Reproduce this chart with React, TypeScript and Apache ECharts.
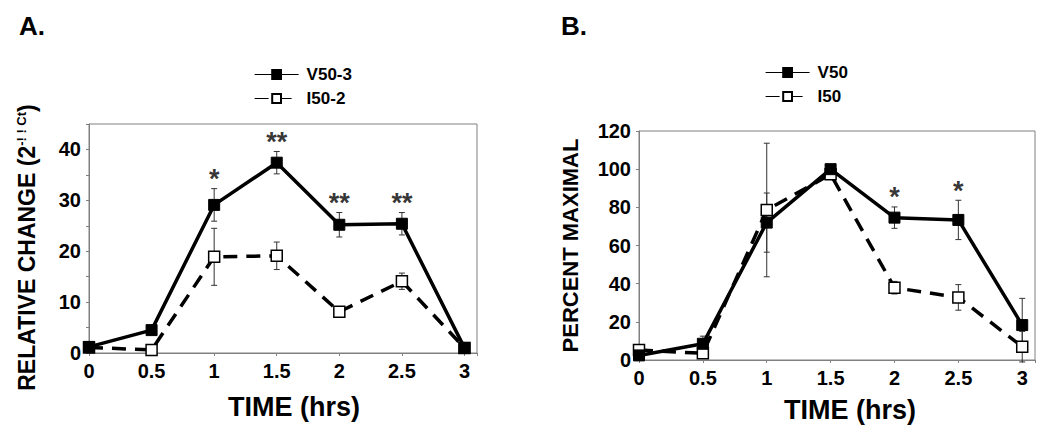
import React, { useEffect, useRef } from "react";
import * as echarts from "echarts";

const timesA = [0, 0.5, 1, 1.5, 2, 2.5, 3];
const v503 = [1.2, 4.5, 29.1, 37.4, 25.2, 25.4, 1.0];
const v503Err = [0, 0, 3.2, 2.2, 2.4, 2.2, 0];
const i502 = [1.1, 0.6, 18.9, 19.1, 8.1, 14.1, 1.0];
const i502Err = [0, 0, 5.6, 2.7, 0, 1.6, 0];
const starsA = ["", "", "*", "**", "**", "**", ""];

const timesB = [0, 0.5, 1, 1.5, 2, 2.5, 3];
const v50 = [2.4, 8.5, 72, 100, 74.6, 73.4, 18.3];
const v50Err = [0, 4, 15.5, 0, 5.6, 10.3, 14];
const i50 = [5.2, 3.5, 78.6, 97.3, 37.9, 32.8, 7];
const i50Err = [0, 0, 35, 0, 3.3, 6.7, 8];
const starsB = ["", "", "", "", "*", "*", ""];

const FONT = "Liberation Sans";

const errRender = (params: any, api: any) => {
  const x = api.value(0);
  const y = api.value(1);
  const e = api.value(2);
  const top = api.coord([x, y + e]);
  const bot = api.coord([x, y - e]);
  const c = 3;
  const st = { stroke: "#333", lineWidth: 1 };
  return {
    type: "group",
    children: [
      { type: "line", shape: { x1: top[0], y1: top[1], x2: bot[0], y2: bot[1] }, style: st },
      { type: "line", shape: { x1: top[0] - c, y1: top[1], x2: top[0] + c, y2: top[1] }, style: st },
      { type: "line", shape: { x1: bot[0] - c, y1: bot[1], x2: bot[0] + c, y2: bot[1] }, style: st },
    ],
  };
};

const errData = (t: number[], v: number[], e: number[]) =>
  t.map((x, i) => [x, v[i], e[i]]).filter((d) => d[2] > 0);

const starData = (t: number[], v: number[], e: number[], s: string[]) =>
  t
    .map((x, i) => ({ name: s[i], value: [x, v[i] + e[i]] }))
    .filter((d) => d.name !== "");

const filled = { color: "#000", borderColor: "#000", borderWidth: 1 };
const open = { color: "#fff", borderColor: "#000", borderWidth: 1.5 };

export default function App() {
  const ref = useRef<HTMLDivElement>(null);
  useEffect(() => {
    const chart = echarts.init(ref.current!, null, { renderer: "svg" });
    const tickFmt = (v: number) => (Math.abs(v * 2 - Math.round(v * 2)) < 1e-6 ? String(v) : "");
    const axisLabel = { fontFamily: FONT, fontWeight: "bold", fontSize: 20, color: "#000", margin: 8 };
    const axisLine = { show: true, lineStyle: { color: "#808080", width: 1 } };
    const axisTick = { show: true, length: 3, lineStyle: { color: "#808080" } };
    const nameStyle = { fontFamily: FONT, fontWeight: "bold", fontSize: 27, color: "#000" };
    const lineSeries = (name: string, t: number[], v: number[], idx: number, dashed: boolean) => ({
      type: "line",
      name,
      xAxisIndex: idx,
      yAxisIndex: idx,
      data: t.map((x, i) => [x, v[i]]),
      symbol: "rect",
      symbolSize: 11,
      showAllSymbol: true,
      lineStyle: { color: "#000", width: 3.5, type: dashed ? [14, 9] : "solid" },
      itemStyle: dashed ? open : filled,
      z: dashed ? 3 : 4,
    });
    const errSeries = (t: number[], v: number[], e: number[], idx: number) => ({
      type: "custom",
      xAxisIndex: idx,
      yAxisIndex: idx,
      renderItem: errRender,
      data: errData(t, v, e),
      z: 2,
      silent: true,
    });
    const starSeries = (t: number[], v: number[], e: number[], s: string[], idx: number) => ({
      type: "scatter",
      xAxisIndex: idx,
      yAxisIndex: idx,
      symbolSize: 0,
      data: starData(t, v, e, s),
      label: {
        show: true,
        position: "top",
        distance: -4,
        formatter: "{b}",
        fontFamily: FONT,
        fontWeight: "bold",
        fontSize: 27,
        color: "#000",
      },
      silent: true,
    });
    const legendBase = {
      orient: "vertical",
      itemWidth: 44,
      itemHeight: 11,
      itemGap: 7,
      lineStyle: { width: 1.2 },
      textStyle: { fontFamily: FONT, fontWeight: "bold", fontSize: 17, color: "#000", padding: [0, 0, 0, 3] },
      selectedMode: false,
    };
    chart.setOption({
      animation: false,
      backgroundColor: "#fff",
      title: [
        { text: "A.", left: 14, top: 8, textStyle: { fontFamily: FONT, fontWeight: "bold", fontSize: 26, color: "#000" } },
        { text: "B.", left: 556, top: 8, textStyle: { fontFamily: FONT, fontWeight: "bold", fontSize: 26, color: "#000" } },
      ],
      legend: [
        { ...legendBase, data: ["V50-3", "I50-2"], left: 249, top: 61 },
        { ...legendBase, data: ["V50", "I50"], left: 760, top: 59 },
      ],
      grid: [
        { left: 89, top: 124, width: 388, height: 229, show: true, borderColor: "#808080", borderWidth: 1 },
        { left: 639, top: 131, width: 396, height: 229, show: true, borderColor: "#808080", borderWidth: 1 },
      ],
      xAxis: [
        {
          type: "value", gridIndex: 0, min: 0, max: 3.1, interval: 0.5,
          axisLine, axisTick, splitLine: { show: false },
          axisLabel: { ...axisLabel, formatter: tickFmt },
          name: "TIME (hrs)", nameLocation: "middle", nameGap: 40,
          nameTextStyle: { ...nameStyle, padding: [0, 0, 0, 22] },
        },
        {
          type: "value", gridIndex: 1, min: 0, max: 3.1, interval: 0.5,
          axisLine, axisTick, splitLine: { show: false },
          axisLabel: { ...axisLabel, formatter: tickFmt },
          name: "TIME (hrs)", nameLocation: "middle", nameGap: 36,
          nameTextStyle: { ...nameStyle, padding: [0, 0, 0, 26] },
        },
      ],
      yAxis: [
        {
          type: "value", gridIndex: 0, min: 0, max: 45, interval: 5,
          axisLine, axisTick, splitLine: { show: false },
          axisLabel: { ...axisLabel, formatter: (v: number) => (v % 10 === 0 ? String(v) : "") },
          name: "{a|RELATIVE CHANGE (2}{b|-! ! Ct}{a|)}",
          nameLocation: "middle", nameRotate: 90, nameGap: 50,
          nameTextStyle: {
            padding: [0, 18, 0, 0],
            rich: {
              a: { fontFamily: FONT, fontWeight: "bold", fontSize: 23, color: "#000" },
              b: { fontFamily: FONT, fontWeight: "bold", fontSize: 13, color: "#000", padding: [0, 0, 11, 0] },
            },
          },
        },
        {
          type: "value", gridIndex: 1, min: 0, max: 120, interval: 20,
          axisLine, axisTick, splitLine: { show: false },
          axisLabel,
          name: "PERCENT MAXIMAL",
          nameLocation: "middle", nameRotate: 90, nameGap: 58,
          nameTextStyle: { fontFamily: FONT, fontWeight: "bold", fontSize: 22, color: "#000" },
        },
      ],
      series: [
        errSeries(timesA, v503, v503Err, 0),
        errSeries(timesA, i502, i502Err, 0),
        lineSeries("V50-3", timesA, v503, 0, false),
        lineSeries("I50-2", timesA, i502, 0, true),
        starSeries(timesA, v503, v503Err, starsA, 0),
        errSeries(timesB, v50, v50Err, 1),
        errSeries(timesB, i50, i50Err, 1),
        lineSeries("V50", timesB, v50, 1, false),
        lineSeries("I50", timesB, i50, 1, true),
        starSeries(timesB, v50, v50Err, starsB, 1),
      ],
    });
    return () => chart.dispose();
  }, []);
  return (
    <div
      ref={ref}
      style={{ position: "fixed", left: 0, top: 0, width: 1050, height: 443, background: "#fff" }}
    />
  );
}
